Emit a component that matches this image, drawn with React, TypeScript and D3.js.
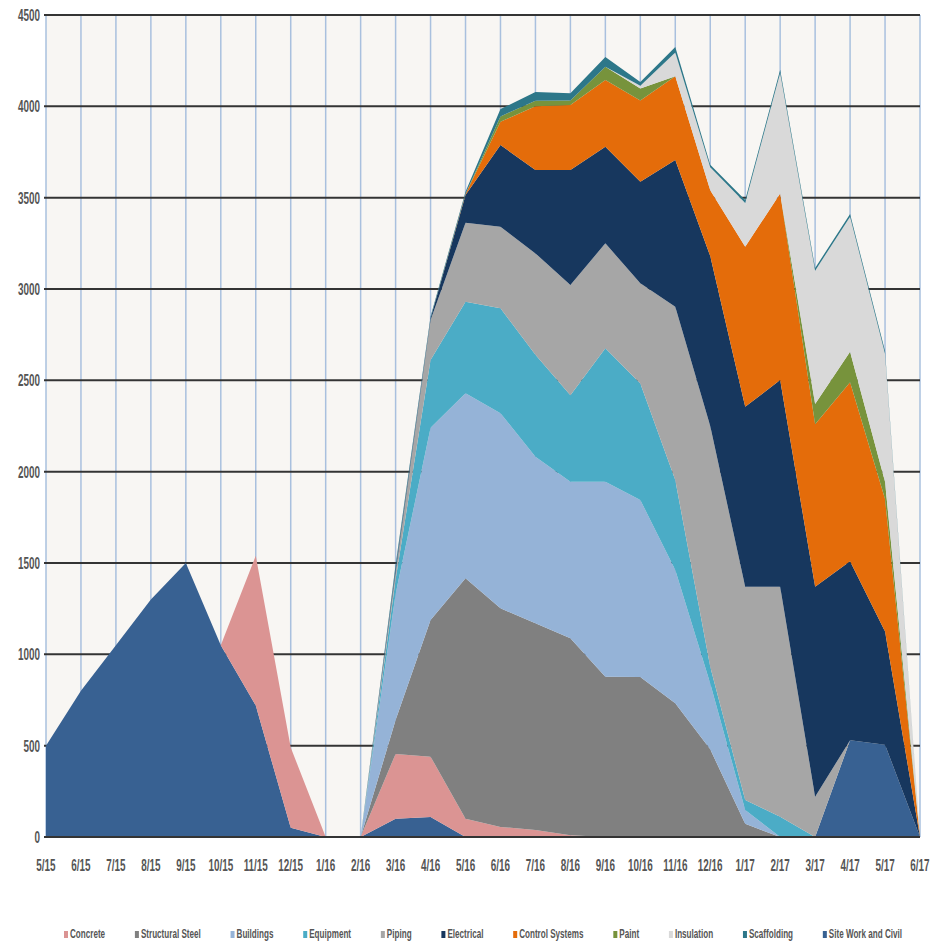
import React, { useEffect, useRef } from 'react';
import * as d3 from 'd3';

const months = ['5/15', '6/15', '7/15', '8/15', '9/15', '10/15', '11/15', '12/15', '1/16', '2/16', '3/16', '4/16', '5/16',
  '6/16', '7/16', '8/16', '9/16', '10/16', '11/16', '12/16', '1/17', '2/17', '3/17', '4/17', '5/17', '6/17'];

// values, one per month
const siteWork = [500, 800, 1050, 1300, 1500, 1050, 720, 50, 0, 0, 100, 110, 0, 0, 0, 0, 0, 0, 0, 0, 0, 0, 0, 530, 505, 0];
const concrete = [0, 0, 0, 0, 0, 0, 820, 440, 0, 0, 355, 330, 100, 55, 38, 10, 0, 0, 0, 0, 0, 0, 0, 0, 0, 0];
const structuralSteel = [0, 0, 0, 0, 0, 0, 0, 0, 0, 0, 185, 748, 1316, 1197, 1132, 1078, 877, 876, 732, 480, 72, 0, 0, 0, 0, 0];
const buildings = [0, 0, 0, 0, 0, 0, 0, 0, 0, 0, 690, 1052, 1013, 1068, 912, 857, 1068, 969, 729, 360, 76, 0, 0, 0, 0, 0];
const equipment = [0, 0, 0, 0, 0, 0, 0, 0, 0, 0, 80, 371, 501, 574, 558, 474, 730, 638, 493, 92, 54, 111, 0, 0, 0, 0];
const piping = [0, 0, 0, 0, 0, 0, 0, 0, 0, 0, 40, 219, 433, 447, 555, 603, 575, 548, 949, 1318, 1168, 1259, 220, 0, 0, 0];
const electrical = [0, 0, 0, 0, 0, 0, 0, 0, 0, 0, 20, 10, 151, 447, 456, 629, 529, 556, 803, 930, 985, 1132, 1150, 980, 620, 0];
const controlSystems = [0, 0, 0, 0, 0, 0, 0, 0, 0, 0, 0, 0, 6, 127, 350, 356, 365, 445, 459, 361, 876, 1021, 890, 980, 725, 0];
const paint = [0, 0, 0, 0, 0, 0, 0, 0, 0, 0, 0, 0, 0, 30, 30, 25, 73, 66, 0, 0, 0, 0, 110, 166, 95, 0];
const insulation = [0, 0, 0, 0, 0, 0, 0, 0, 0, 0, 0, 0, 0, 0, 0, 0, 0, 15, 130, 125, 240, 660, 730, 740, 700, 0];
const scaffolding = [0, 0, 0, 0, 0, 0, 0, 0, 0, 0, 20, 10, 12, 40, 47, 40, 53, 20, 30, 14, 16, 17, 15, 14, 15, 0];

const yTicks = [0, 500, 1000, 1500, 2000, 2500, 3000, 3500, 4000, 4500];

// stacking order, bottom to top
const series = [
  { name: 'Site Work and Civil', values: siteWork, color: '#386192' },
  { name: 'Concrete', values: concrete, color: '#db9493' },
  { name: 'Structural Steel', values: structuralSteel, color: '#808080' },
  { name: 'Buildings', values: buildings, color: '#95b3d7' },
  { name: 'Equipment', values: equipment, color: '#4bacc6' },
  { name: 'Piping', values: piping, color: '#a6a6a6' },
  { name: 'Electrical', values: electrical, color: '#17375e' },
  { name: 'Control Systems', values: controlSystems, color: '#e46c0a' },
  { name: 'Paint', values: paint, color: '#77933c' },
  { name: 'Insulation', values: insulation, color: '#d9d9d9' },
  { name: 'Scaffolding', values: scaffolding, color: '#2d7789' },
];

const legendOrder = ['Concrete', 'Structural Steel', 'Buildings', 'Equipment', 'Piping', 'Electrical',
  'Control Systems', 'Paint', 'Insulation', 'Scaffolding', 'Site Work and Civil'];

const FONT = '"Liberation Sans", Arial, sans-serif';
const SQX = 0.6; // narrow glyphs

const App: React.FC = () => {
  const svgRef = useRef<SVGSVGElement | null>(null);

  useEffect(() => {
    if (!svgRef.current) return;
    const width = 943;
    const height = 942;
    const left = 46, right = 920, top = 15, bottom = 837;

    const svg = d3.select(svgRef.current);
    svg.selectAll('*').remove();
    svg.attr('width', width).attr('height', height);

    const x = d3.scalePoint<string>().domain(months).range([left, right]);
    const y = d3.scaleLinear().domain([0, 4500]).range([bottom, top]);

    // plot background
    svg.append('rect')
      .attr('x', left).attr('y', top)
      .attr('width', right - left).attr('height', bottom - top)
      .attr('fill', '#f8f6f3');

    // vertical grid
    svg.append('g').selectAll('line')
      .data(months)
      .enter().append('line')
      .attr('x1', d => x(d)!).attr('x2', d => x(d)!)
      .attr('y1', top).attr('y2', bottom)
      .attr('stroke', '#a9c0de').attr('stroke-width', 1.5);

    // horizontal grid
    svg.append('g').selectAll('line')
      .data(yTicks)
      .enter().append('line')
      .attr('x1', left - 2).attr('x2', right)
      .attr('y1', d => y(d)).attr('y2', d => y(d))
      .attr('stroke', '#343434').attr('stroke-width', 2);

    // stacked areas
    const table = months.map((m, i) => {
      const row: any = { month: m };
      series.forEach(s => { row[s.name] = s.values[i]; });
      return row;
    });
    const stack = d3.stack<any>().keys(series.map(s => s.name));
    const layers = stack(table);

    const area = d3.area<any>()
      .x(d => x(d.data.month)!)
      .y0(d => y(d[0]))
      .y1(d => y(d[1]))
      .curve(d3.curveLinear);

    svg.append('g').selectAll('path')
      .data(layers)
      .enter().append('path')
      .attr('d', d => area(d as any) as string)
      .attr('fill', (d, i) => series[i].color);

    // baseline
    svg.append('line')
      .attr('x1', left - 2).attr('x2', right)
      .attr('y1', y(0)).attr('y2', y(0))
      .attr('stroke', '#343434').attr('stroke-width', 2);

    // y labels
    svg.append('g').selectAll('text')
      .data(yTicks)
      .enter().append('text')
      .attr('transform', d => `translate(40, ${y(d) + 6}) scale(${SQX}, 1)`)
      .attr('text-anchor', 'end')
      .style('font-family', FONT)
      .style('font-size', '16.5px')
      .style('font-weight', 'bold')
      .attr('fill', '#555')
      .text(d => String(d));

    // x labels
    svg.append('g').selectAll('text')
      .data(months)
      .enter().append('text')
      .attr('transform', d => `translate(${x(d)}, 871) scale(${SQX}, 1)`)
      .attr('text-anchor', 'middle')
      .style('font-family', FONT)
      .style('font-size', '16.5px')
      .style('font-weight', 'bold')
      .attr('fill', '#555')
      .text(d => d);

    // legend
    const legend = svg.append('g');
    const items = legendOrder.map(name => {
      const s = series.find(v => v.name === name)!;
      const g = legend.append('g');
      g.append('rect')
        .attr('width', 4).attr('height', 7)
        .attr('y', -7)
        .attr('fill', s.color);
      const t = g.append('text')
        .attr('transform', `translate(6, 0) scale(${SQX}, 1)`)
        .style('font-family', FONT)
        .style('font-size', '13.5px')
        .style('font-weight', 'bold')
        .attr('fill', '#555')
        .text(name);
      const w = 6 + (t.node() as SVGTextElement).getComputedTextLength() * SQX;
      return { g, w };
    });
    const span = 838;
    const sum = d3.sum(items, d => d.w);
    const gap = (span - sum) / (items.length - 1);
    let cx = (left + right) / 2 - span / 2;
    items.forEach(it => {
      it.g.attr('transform', `translate(${cx}, 938)`);
      cx += it.w + gap;
    });
  }, []);

  return <svg ref={svgRef} style={{ position: 'absolute', left: 0, top: 0, background: '#fff' }}></svg>;
};

export default App;
